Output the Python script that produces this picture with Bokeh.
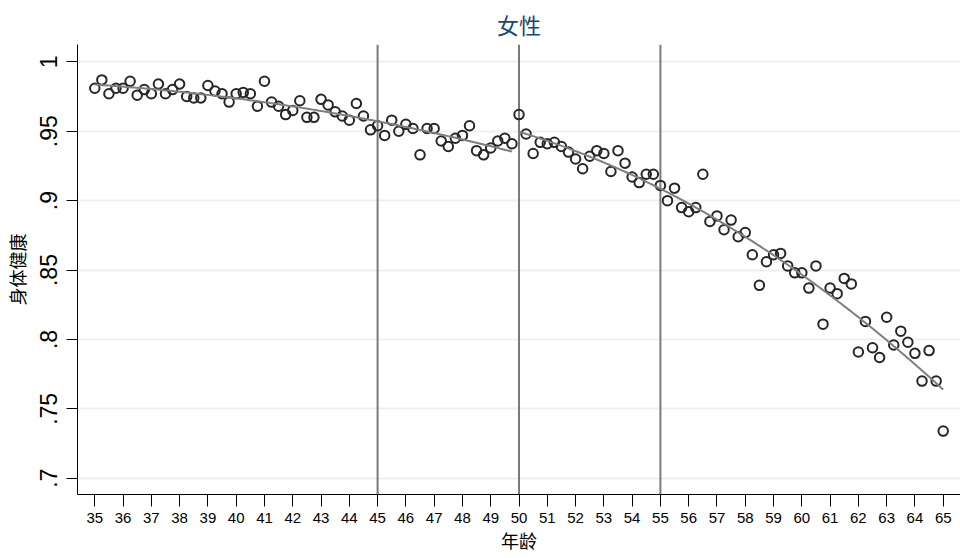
import numpy as np
from bokeh.plotting import figure
from bokeh.models import Range1d, FixedTicker, Span
from bokeh.embed import file_html
from bokeh.resources import INLINE

# Age in years, one observation per quarter from 35 to 65
ages = np.linspace(35, 65, 121)

# Mean physical-health index for women at each quarter of age
health = [
    0.981, 0.987, 0.977, 0.981,   # 35
    0.981, 0.986, 0.976, 0.980,   # 36
    0.977, 0.984, 0.977, 0.980,   # 37
    0.984, 0.975, 0.974, 0.974,   # 38
    0.983, 0.979, 0.977, 0.971,   # 39
    0.977, 0.978, 0.977, 0.968,   # 40
    0.986, 0.971, 0.968, 0.962,   # 41
    0.965, 0.972, 0.960, 0.960,   # 42
    0.973, 0.969, 0.964, 0.961,   # 43
    0.958, 0.970, 0.961, 0.951,   # 44
    0.954, 0.947, 0.958, 0.950,   # 45
    0.955, 0.952, 0.933, 0.952,   # 46
    0.952, 0.943, 0.939, 0.945,   # 47
    0.947, 0.954, 0.936, 0.933,   # 48
    0.938, 0.943, 0.945, 0.941,   # 49
    0.962, 0.948, 0.934, 0.942,   # 50
    0.941, 0.942, 0.939, 0.935,   # 51
    0.930, 0.923, 0.932, 0.936,   # 52
    0.934, 0.921, 0.936, 0.927,   # 53
    0.917, 0.913, 0.919, 0.919,   # 54
    0.911, 0.900, 0.909, 0.895,   # 55
    0.892, 0.895, 0.919, 0.885,   # 56
    0.889, 0.879, 0.886, 0.874,   # 57
    0.877, 0.861, 0.839, 0.856,   # 58
    0.861, 0.862, 0.853, 0.848,   # 59
    0.848, 0.837, 0.853, 0.811,   # 60
    0.837, 0.833, 0.844, 0.840,   # 61
    0.791, 0.813, 0.794, 0.787,   # 62
    0.816, 0.796, 0.806, 0.798,   # 63
    0.790, 0.770, 0.792, 0.770,   # 64
    0.734,                        # 65
]

x_ticks = list(range(35, 66))
y_ticks = [0.7, 0.75, 0.8, 0.85, 0.9, 0.95, 1.0]
y_tick_labels = [".7", ".75", ".8", ".85", ".9", ".95", "1"]
cutoffs = [45, 50, 55]       # reference ages marked with vertical lines
fit_break = 50               # separate quadratic fits below / from this age

x = np.asarray(ages)
y = np.asarray(health)

p = figure(
    width=960, height=558,
    x_range=Range1d(34.389, 65.611),
    y_range=Range1d(0.6883, 1.0125),
    output_backend="svg", toolbar_location=None,
    min_border_left=77, min_border_right=0,
    min_border_top=44, min_border_bottom=64,
)
p.outline_line_color = None
p.background_fill_color = "white"
p.border_fill_color = "white"

# title
p.title.text = "女性"
p.title.align = "center"
p.title.text_font = "Noto Sans CJK SC"
p.title.text_font_style = "normal"
p.title.text_font_size = "22px"
p.title.text_color = "#1a476f"
p.title.standoff = 10

# grid: horizontal only
p.xgrid.grid_line_color = None
p.ygrid.ticker = FixedTicker(ticks=y_ticks)
p.ygrid.grid_line_color = "#e9f1f3"
p.ygrid.grid_line_width = 2

# x axis
xa = p.xaxis[0]
xa.ticker = FixedTicker(ticks=x_ticks)
xa.major_tick_in = 0
xa.major_tick_out = 12
xa.minor_tick_line_color = None
xa.axis_line_color = "#000000"
xa.major_tick_line_color = "#000000"
xa.major_label_text_font = "Liberation Sans"
xa.major_label_text_font_size = "15px"
xa.major_label_text_color = "#000000"
xa.major_label_standoff = 6
xa.axis_label = "年龄"
xa.axis_label_text_font = "Noto Sans CJK SC"
xa.axis_label_text_font_style = "normal"
xa.axis_label_text_font_size = "18px"
xa.axis_label_text_color = "#000000"
xa.axis_label_standoff = 1

# y axis
ya = p.yaxis[0]
ya.ticker = FixedTicker(ticks=y_ticks)
ya.major_label_overrides = {t: s for t, s in zip(y_ticks, y_tick_labels)}
ya.major_label_orientation = "vertical"
ya.major_tick_in = 0
ya.major_tick_out = 11
ya.minor_tick_line_color = None
ya.axis_line_color = "#000000"
ya.major_tick_line_color = "#000000"
ya.major_label_text_font = "Liberation Sans"
ya.major_label_text_font_size = "23px"
ya.major_label_text_color = "#000000"
ya.major_label_standoff = 9
ya.axis_label = "身体健康"
ya.axis_label_text_font = "Noto Sans CJK SC"
ya.axis_label_text_font_style = "normal"
ya.axis_label_text_font_size = "18px"
ya.axis_label_text_color = "#000000"
ya.axis_label_standoff = 8

# vertical reference lines
for c in cutoffs:
    p.add_layout(Span(location=c, dimension="height", line_color="#7a7a7a",
                      line_width=2, level="underlay"))

# observations
p.scatter(x, y, marker="circle", size=9.5, fill_color=None,
          line_color="#262626", line_width=2)

# quadratic fits on each side of the break
for mask in (x < fit_break, x >= fit_break):
    xs, ys = x[mask], y[mask]
    coef = np.polyfit(xs, ys, 2)
    xf = np.linspace(xs.min(), xs.max(), 200)
    p.line(xf, np.polyval(coef, xf), line_color="#7f7f7f", line_width=2)

open("out.html", "w").write(file_html(p, INLINE))
